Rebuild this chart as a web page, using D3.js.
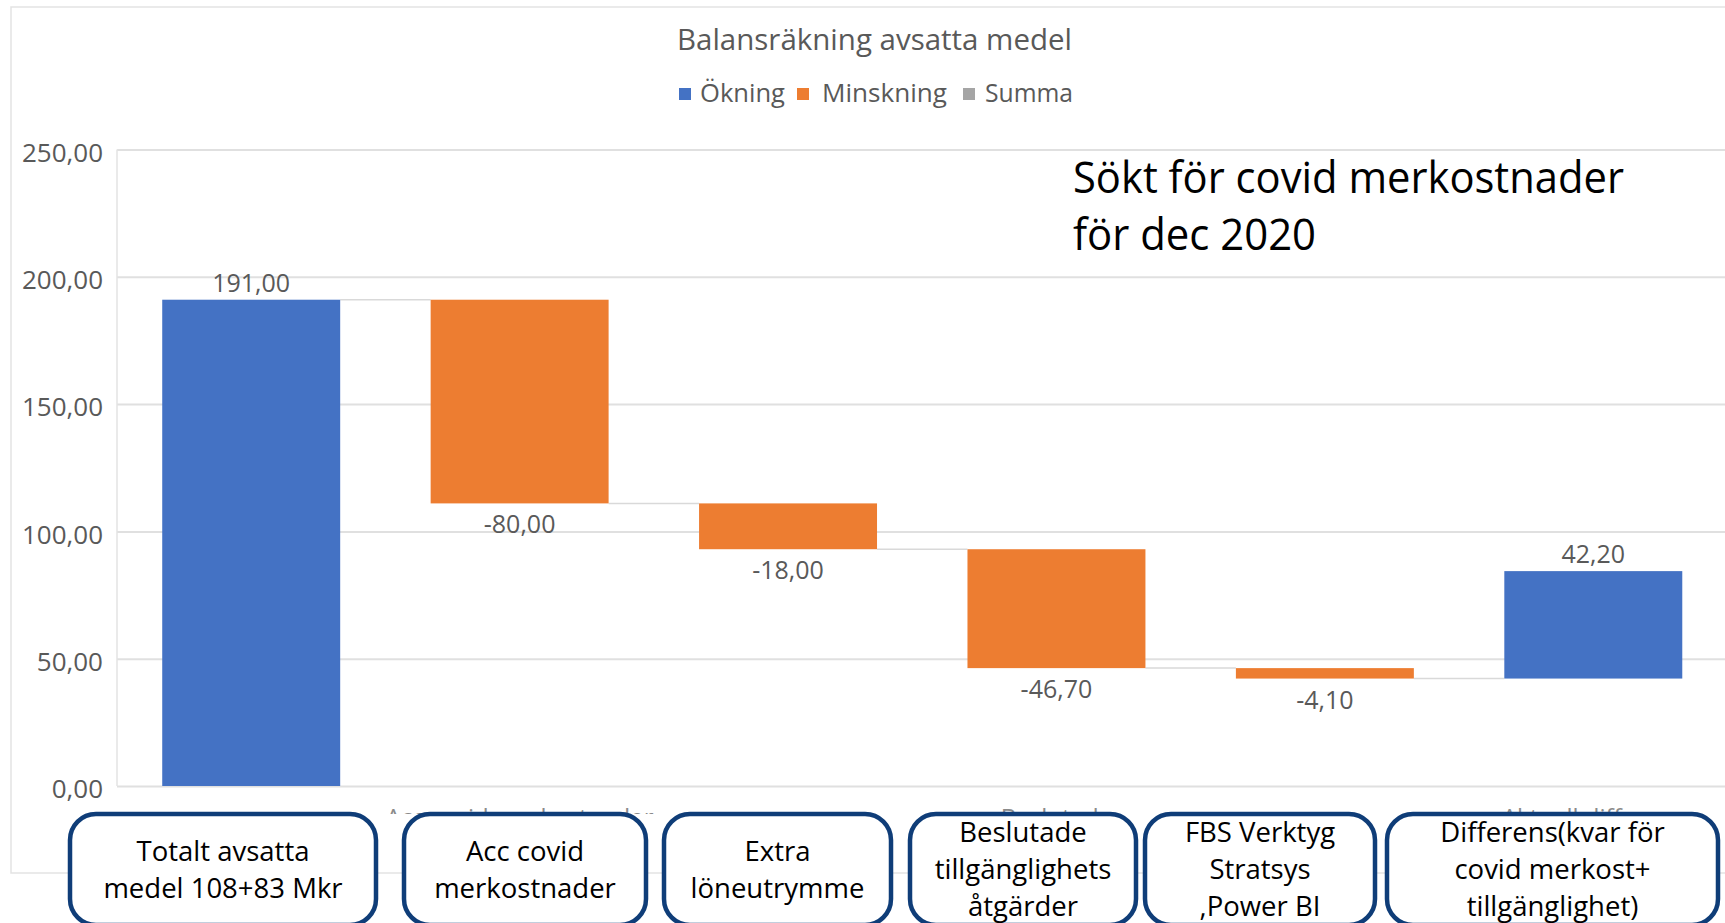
<!DOCTYPE html>
<html>
<head>
<meta charset="utf-8">
<script src="https://cdn.jsdelivr.net/npm/d3@7"></script>
<style>
  html, body { margin: 0; padding: 0; background: #fff; }
  svg { display: block; }
  text { font-family: "Open Sans", "Noto Sans", sans-serif; }
</style>
</head>
<body>
<svg id="chart" width="1725" height="923"></svg>
<script>
// ---------------- data ----------------
const categories = ["Totalt avsatta medel", "Acc covid merkostnader", "Extra löneutrymme",
                    "Beslutade tillgänglighetsåtgärder", "FBS Verktyg", "Aktuell differens"];
const axisLabels = ["", "Acc covid merkostnader", "", "Beslutade", "", "Aktuell differens"];
const steps = [191.0, -80.0, -18.0, -46.7, -4.1, 42.2];
const yTicks = [0, 50, 100, 150, 200, 250];
const legendItems = ["Ökning", "Minskning", "Summa"];
const legendColors = ["#4472c4", "#ed7d31", "#a5a5a5"];
const titleText = "Balansräkning avsatta medel";
const noteLines = ["Sökt för covid merkostnader", "för dec 2020"];
const boxTexts = [
  ["Totalt avsatta", "medel 108+83 Mkr"],
  ["Acc covid", "merkostnader"],
  ["Extra", "löneutrymme"],
  ["Beslutade", "tillgänglighets", "åtgärder"],
  ["FBS Verktyg", "Stratsys", ",Power BI"],
  ["Differens(kvar för", "covid merkost+", "tillgänglighet)"]
];

// ---------------- layout ----------------
const W = 1725, H = 923;
const plot = { left: 117, right: 1727.5, top: 149.5, bottom: 786 };
const boxLayout = [[68, 378], [402, 648], [662, 893], [908, 1138], [1143, 1377], [1385, 1720]];
const boxTop = 814, boxBottom = 925;

const svg = d3.select("#chart");
const locale = d3.formatLocale({ decimal: ",", thousands: " ", grouping: [3], currency: ["", ""], minus: "-" });
const fmt = locale.format(".2f");

// waterfall computation
let cum = 0;
const bars = steps.map((v, i) => {
  const y0 = cum, y1 = cum + v;
  cum = y1;
  return { cat: categories[i], v, y0, y1, lo: Math.min(y0, y1), hi: Math.max(y0, y1), up: v >= 0 };
});

const x = d3.scaleBand().domain(categories).range([plot.left, plot.right])
  .paddingInner(0.337).paddingOuter(0.1685);
const y = d3.scaleLinear().domain([0, 250]).range([plot.bottom, plot.top]);

// chart frame
const gFrame = svg.append("g").attr("fill", "none").attr("stroke", "#e3e3e3").attr("stroke-width", 1.5);
gFrame.append("path").attr("d", `M${W},7 H11 V873 H${W}`);

// gridlines
const gGrid = svg.append("g")
  .attr("transform", `translate(${plot.left},0)`)
  .call(d3.axisRight(y).tickValues(yTicks).tickSize(W - plot.left).tickFormat(""));
gGrid.select(".domain").remove();
gGrid.selectAll(".tick line").attr("stroke", "#e0e0e0").attr("stroke-width", 2);

// left plot edge line
svg.append("line").attr("x1", plot.left).attr("x2", plot.left)
  .attr("y1", y(250)).attr("y2", y(0)).attr("stroke", "#e3e3e3").attr("stroke-width", 1.5);

// y axis labels
const gY = svg.append("g")
  .attr("transform", `translate(103,0)`)
  .call(d3.axisLeft(y).tickValues(yTicks).tickSize(0).tickPadding(0).tickFormat(d => fmt(d)));
gY.select(".domain").remove();
gY.selectAll("text").attr("fill", "#595959").attr("font-size", 26)
  .attr("font-family", "'Open Sans', sans-serif").attr("dy", "0.45em");

// connectors
svg.append("g").selectAll("line").data(bars.slice(0, -1)).join("line")
  .attr("x1", (d) => x(d.cat) + x.bandwidth())
  .attr("x2", (d, i) => x(categories[i + 1]))
  .attr("y1", d => y(d.y1)).attr("y2", d => y(d.y1))
  .attr("stroke", "#d9d9d9").attr("stroke-width", 1.5);

// bars
svg.append("g").selectAll("rect").data(bars).join("rect")
  .attr("x", d => x(d.cat)).attr("width", x.bandwidth())
  .attr("y", d => y(d.hi)).attr("height", d => y(d.lo) - y(d.hi))
  .attr("fill", d => d.up ? legendColors[0] : legendColors[1]);

// data labels
svg.append("g").selectAll("text").data(bars).join("text")
  .attr("x", d => x(d.cat) + x.bandwidth() / 2)
  .attr("y", d => d.up ? y(d.hi) - 8 : y(d.lo) + 30)
  .attr("text-anchor", "middle").attr("font-size", 25).attr("fill", "#595959")
  .text(d => fmt(d.v));

// title
svg.append("text").attr("x", 677).attr("y", 50).attr("font-size", 29).attr("fill", "#595959")
  .attr("textLength", 395).attr("lengthAdjust", "spacingAndGlyphs").text(titleText);

// legend
const legendPos = [[679, 700, 85], [797, 822, 125], [963, 985, 88]];
const gL = svg.append("g");
legendItems.forEach((name, i) => {
  const [sx, tx, tw] = legendPos[i];
  gL.append("rect").attr("x", sx).attr("y", 88).attr("width", 12).attr("height", 12).attr("fill", legendColors[i]);
  gL.append("text").attr("x", tx).attr("y", 102).attr("font-size", 25).attr("fill", "#595959")
    .attr("textLength", tw).attr("lengthAdjust", "spacingAndGlyphs").text(name);
});

// annotation
const noteWidths = [551, 243];
noteLines.forEach((t, i) => {
  svg.append("text").attr("x", 1073).attr("y", 193 + i * 57).attr("font-size", 43).attr("fill", "#000")
    .attr("textLength", noteWidths[i]).attr("lengthAdjust", "spacingAndGlyphs").text(t);
});

// hidden category axis labels (only their tops peek out above the boxes)
svg.append("defs").append("clipPath").attr("id", "axclip")
  .append("rect").attr("x", 0).attr("y", 790).attr("width", W).attr("height", boxTop - 790);
svg.append("g").attr("clip-path", "url(#axclip)")
  .selectAll("text").data(categories).join("text")
  .attr("x", d => x(d) + x.bandwidth() / 2).attr("y", 826)
  .attr("text-anchor", "middle").attr("font-size", 24).attr("fill", "#8a8a8a")
  .text((d, i) => axisLabels[i]);

// boxes
const gB = svg.append("g");
boxLayout.forEach(([x0, x1], i) => {
  gB.append("rect").attr("x", x0 + 2).attr("y", boxTop).attr("width", x1 - x0 - 4)
    .attr("height", boxBottom - boxTop).attr("rx", 26).attr("ry", 26)
    .attr("fill", "#fff").attr("stroke", "#0f3d78").attr("stroke-width", 4.5);
  const lines = boxTexts[i];
  const n = lines.length;
  const cx = (x0 + x1) / 2;
  lines.forEach((t, j) => {
    gB.append("text").attr("x", cx).attr("y", 869 + (j - (n - 1) / 2) * 37 + 10)
      .attr("text-anchor", "middle").attr("font-size", 27.5).attr("fill", "#000").text(t);
  });
});
</script>
</body>
</html>
